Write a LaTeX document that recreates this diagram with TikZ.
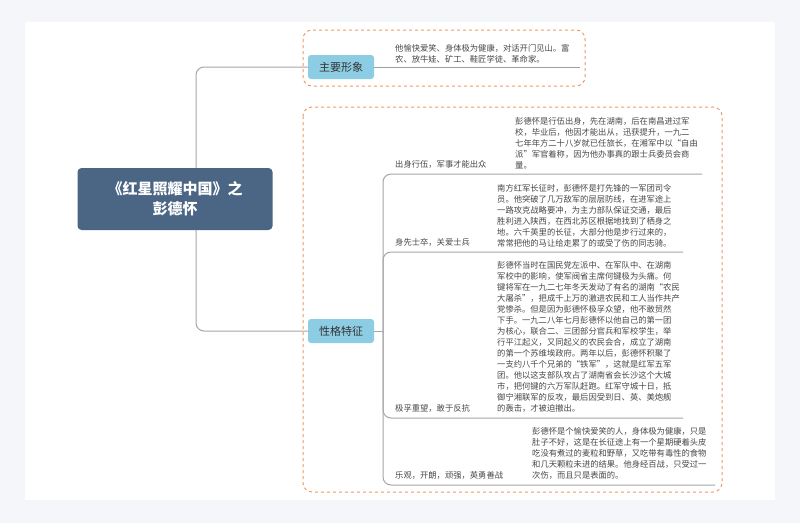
\documentclass[tikz,border=0pt]{standalone}
\usepackage{fontspec}
\setmainfont{Noto Sans CJK SC}
\begin{document}
\begin{tikzpicture}[x=1pt,y=-1pt,
  lbl/.style={rounded corners=3pt,fill=topicblue,text=black!80,font=\fontsize{11}{13}\selectfont,minimum width=66pt,minimum height=24pt,inner sep=0pt},
  body/.style={anchor=south west,align=left,inner sep=0pt,text=black!72,font=\fontsize{8.3}{11}\selectfont},
  sub/.style={anchor=south west,inner sep=0pt,text=black!72,font=\fontsize{8.3}{10}\selectfont},
  uline/.style={draw=gray!75,line width=0.9pt},
  conn/.style={draw=gray!70,line width=1pt,rounded corners=8pt},
  dbox/.style={draw=dashorange,dashed,line width=1pt,rounded corners=9pt}]
\definecolor{topicblue}{HTML}{8DCDE4}
\definecolor{rootblue}{HTML}{4B6584}
\definecolor{dashorange}{HTML}{EE9A66}
\fill[fill={rgb,255:red,244;green,246;blue,249}] (0,0) rectangle (800,523);
\fill[white] (25,22) rectangle (775,500);
\useasboundingbox (0,0) rectangle (800,523);

\draw[dbox] (303,30) rectangle (585,86);
\draw[dbox] (303,107) rectangle (722,492);

\node[rounded corners=4pt,fill=rootblue,text=white,align=center,font=\bfseries\fontsize{15}{20}\selectfont,minimum width=195pt,minimum height=62pt,inner sep=0pt] (root) at (175,199) {《红星照耀中国》之\\彭德怀};
\node[lbl] (t1) at (341,67) {主要形象};
\node[lbl] (t2) at (341,331) {性格特征};
\draw[conn] (root.north -| 196,0) |- (t1.west);
\draw[conn] (root.south -| 196,0) |- (t2.west);

% top
\coordinate (u0) at (580,67);
\draw[uline] (t1.east) -- (u0);
\node[body] (b0) at (395,63) {他愉快爱笑、身体极为健康，对话开门见山。富\\农、放牛娃、矿工、鞋匠学徒、革命家。};

% bottom branches
\coordinate (sp) at (383,331);
\draw[conn] (t2.east) -- (sp);
\coordinate (e1) at (702,174);
\coordinate (e2) at (683,252);
\coordinate (e3) at (683,418);
\coordinate (e4) at (715,485);
\draw[conn] (sp) |- (e1);
\draw[conn] (sp) |- (e2);
\draw[conn] (sp) |- (e3);
\draw[conn] (sp) |- (e4);

\node[sub] (s1) at (395,169) {出身行伍，军事才能出众};
\node[sub] (s2) at (395,247) {身先士卒，关爱士兵};
\node[sub] (s3) at (395,413) {极孚重望，敢于反抗};
\node[sub] (s4) at (395,480) {乐观，开朗，顽强，英勇善战};

\node[body] (b1) at (515,169) {彭德怀是行伍出身，先在湖南，后在南昌进过军\\校，毕业后，他因才能出从，迅获提升，一九二\\七年年方二十八岁就已任旅长，在湘军中以“自由\\派”军官着称，因为他办事真的跟士兵委员会商\\量。};
\node[body] (b2) at (497,247) {南方红军长征时，彭德怀是打先锋的一军团司令\\员。他突破了几万敌军的层层防线，在进军途上\\一路攻克战略要冲，为主力部队保证交通，最后\\胜利进入陕西，在西北苏区根据地找到了栖身之\\地。六千英里的长征，大部分他是步行过来的，\\常常把他的马让给走累了的或受了伤的同志骑。};
\node[body] (b3) at (497,413) {彭德怀当时在国民党左派中、在军队中、在湖南\\军校中的影响，使军阀省主席何键极为头痛。何\\键将军在一九二七年冬天发动了有名的湖南“农民\\大屠杀”，把成千上万的激进农民和工人当作共产\\党惨杀。但是因为彭德怀极孚众望，他不敢贸然\\下手。一九二八年七月彭德怀以他自己的第一团\\为核心，联合二、三团部分官兵和军校学生，举\\行平江起义，又同起义的农民会合，成立了湖南\\的第一个苏维埃政府。两年以后，彭德怀积聚了\\一支约八千个兄弟的“铁军”，这就是红军五军\\团。他以这支部队攻占了湖南省会长沙这个大城\\市，把何键的六万军队赶跑。红军守城十日，抵\\御宁湘联军的反攻，最后因受到日、英、美炮舰\\的轰击，才被迫撤出。};
\node[body] (b4) at (532,480) {彭德怀是个愉快爱笑的人，身体极为健康，只是\\肚子不好，这是在长征途上有一个星期硬着头皮\\吃没有煮过的麦粒和野草，又吃带有毒性的食物\\和几天颗粒未进的结果。他身经百战，只受过一\\次伤，而且只是表面的。};
\end{tikzpicture}
\end{document}
